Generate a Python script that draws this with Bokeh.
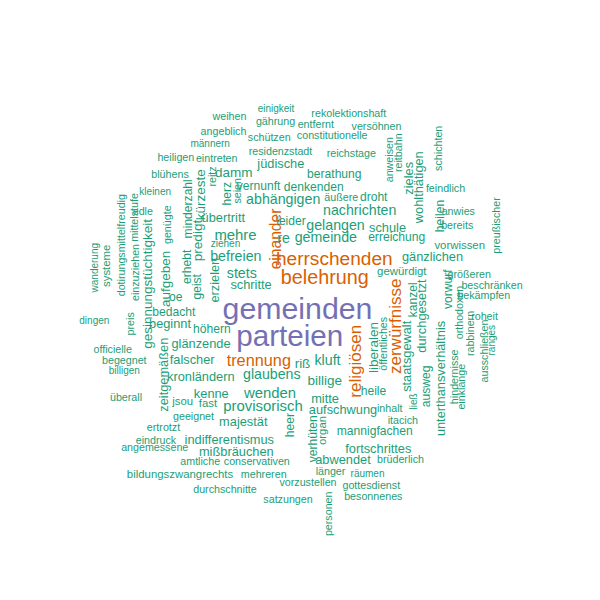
import math
from bokeh.plotting import figure
from bokeh.models import ColumnDataSource, Range1d
from bokeh.core.properties import value
from bokeh.embed import file_html
from bokeh.resources import INLINE

# Wörter nach geschätzter Häufigkeit
top_words = ["gemeinden", "parteien", "belehrung", "herrschenden", "religiösen",
             "zerwürfnisse", "trennung", "einander"]
top_freq = [30, 29, 15, 14, 11, 11, 10, 9]
freq8 = ["provisorisch", "wenden", "mehre"]
freq7 = ["nachrichten", "gelangen", "gemeinde", "re", "kluft", "abhängigen", "befreien",
         "stets", "glaubens"]
freq6 = ["predigt", "riß", "billige", "liberalen", "gesinnungstüchtigkeit", "aufgeben",
         "kürzeste", "damm"]
freq5 = ["schule", "gänzlichen", "wohlthätigen", "zieles", "unterthansverhältnis",
         "durchgesetzt", "staatsgewalt", "mitte", "aufschwung", "fortschrittes", "abwendet",
         "mißbräuchen", "indifferentismus", "majestät", "kenne", "zeitgemäßen", "glänzende",
         "falscher", "kronländern", "schritte", "beginnt", "erzielen", "jüdische", "übertritt"]
freq4 = ["berathung", "droht", "denkenden", "erreichung", "heilen", "leider", "vorwurf",
         "ausweg", "kanzel", "heile", "mannigfachen", "verhüten", "heer", "bedacht", "höhern",
         "oe", "erhebt", "geist", "minderzahl", "herz", "vernunft"]
freq3 = ["vorwissen", "gewürdigt", "organ", "bildungszwangrechts", "jsou", "fast", "systeme"]
freq2 = ["weihen", "gährung", "angeblich", "schützen", "residenzstadt", "rekolektionshaft",
         "entfernt", "versöhnen", "constitutionelle", "reichstage", "anweisen", "reitbahn",
         "schichten", "feindlich", "äußere", "anwies", "bereits", "preußischer", "größeren",
         "beschränken", "bekämpfen", "roheit", "ausschließen", "rabbinern", "orthodoxen",
         "hindernisse", "einklange", "öffentliches", "inhalt", "itacich", "brüderlich",
         "länger", "vorzustellen", "gottesdienst", "besonnenes", "satzungen", "personen",
         "durchschnitte", "mehreren", "amtliche", "conservativen", "angemessene", "eindruck",
         "ertrotzt", "geeignet", "überall", "officielle", "begegnet", "genügte", "reitz",
         "seien", "eintreten", "heiligen", "blühens", "edle", "dotirungsmittelfreudig",
         "mittelstufe", "einzuziehen", "preis"]
freq1 = ["einigkeit", "männern", "ranges", "ließ", "räumen", "billigen", "kleinen", "ziehen",
         "wanderung", "dingen"]

words = top_words + freq8 + freq7 + freq6 + freq5 + freq4 + freq3 + freq2 + freq1
freq = (top_freq + [8] * len(freq8) + [7] * len(freq7) + [6] * len(freq6)
        + [5] * len(freq5) + [4] * len(freq4) + [3] * len(freq3) + [2] * len(freq2)
        + [1] * len(freq1))

# Lage im Bild: (x, y, senkrecht) - waagerecht: Mitte/Grundlinie, senkrecht: Grundlinie/Mitte
layout = {
    "gemeinden": (297, 307.7, 0), "parteien": (289.3, 335, 0), "belehrung": (324.3, 276, 0),
    "herrschenden": (333.8, 258.3, 0), "religiösen": (354.7, 360.8, 1),
    "zerwürfnisse": (395, 325.8, 1), "trennung": (258.3, 359.3, 0), "einander": (275, 238.5, 1),
    "provisorisch": (262.5, 405, 0), "wenden": (269.5, 392.7, 0), "mehre": (235, 234, 0),
    "nachrichten": (359.2, 209.3, 0), "gelangen": (335, 224.3, 0), "gemeinde": (325.3, 236.7, 0),
    "re": (283, 237.7, 0), "kluft": (327, 359.3, 0), "abhängigen": (282.7, 198.3, 0),
    "befreien": (235.3, 255, 0), "stets": (241.3, 272.7, 0), "glaubens": (271.3, 373.3, 0),
    "predigt": (197, 240, 1),
    "riß": (302, 363.3, 0), "billige": (324.2, 380, 0), "liberalen": (373, 347, 1),
    "gesinnungstüchtigkeit": (146.5, 283.3, 1), "aufgeben": (164.5, 278.3, 1),
    "kürzeste": (200, 194.2, 1), "damm": (233.3, 171.7, 0),
    "schule": (387, 226.7, 0), "gänzlichen": (432, 255.7, 0), "wohlthätigen": (418, 186.7, 1),
    "zieles": (408.3, 177.8, 1), "unterthansverhältnis": (440, 378, 1),
    "durchgesetzt": (421.3, 315.5, 1), "staatsgewalt": (405.6, 355.8, 1),
    "mitte": (324.5, 398.3, 0), "aufschwung": (342.5, 409.3, 0), "fortschrittes": (377.8, 448.3, 0),
    "abwendet": (342.5, 459.3, 0), "mißbräuchen": (235.8, 450.7, 0),
    "indifferentismus": (228.8, 439.3, 0), "majestät": (242.8, 420.7, 0), "kenne": (210.8, 393.3, 0),
    "zeitgemäßen": (162.5, 374.2, 1), "glänzende": (200.5, 342.7, 0), "falscher": (191.7, 359.3, 0),
    "kronländern": (200.3, 376, 0), "schritte": (250.5, 284, 0), "beginnt": (169.5, 323.3, 0),
    "erzielen": (214, 279.7, 1), "jüdische": (280.3, 163.3, 0), "übertritt": (222.8, 217.3, 0),
    "berathung": (333.8, 173.3, 0), "droht": (373.2, 196.7, 0), "denkenden": (313.3, 186.7, 0),
    "erreichung": (396.2, 236.7, 0), "heilen": (439, 215.5, 1), "leider": (290.5, 220.7, 0),
    "vorwurf": (447.3, 288.8, 1), "ausweg": (425.8, 385.8, 1), "kanzel": (412.5, 299.2, 1),
    "heile": (373, 390, 0), "mannigfachen": (374.2, 430, 0), "verhüten": (312.5, 438.3, 1),
    "heer": (289.5, 424.7, 1), "bedacht": (173.3, 311.7, 0), "höhern": (211.3, 328.3, 0),
    "oe": (175.3, 296, 0), "erhebt": (186, 266.3, 1), "geist": (196, 286.3, 1),
    "minderzahl": (187, 208.3, 1), "herz": (226, 193.3, 1), "vernunft": (258, 185, 0),
    "vorwissen": (459.2, 244.3, 0), "gewürdigt": (401.3, 270.7, 0), "organ": (321.5, 430, 1),
    "bildungszwangrechts": (179.5, 473.3, 0), "jsou": (182.2, 400, 0), "fast": (207.5, 402.7, 0),
    "systeme": (105, 265.3, 1),
    "weihen": (229, 115, 0), "gährung": (275, 120, 0), "angeblich": (223, 130.7, 0),
    "schützen": (268.7, 136.7, 0), "residenzstadt": (280, 150, 0),
    "rekolektionshaft": (348.3, 112.7, 0), "entfernt": (315.3, 123.3, 0),
    "versöhnen": (376, 125.3, 0), "constitutionelle": (331.7, 134.3, 0),
    "reichstage": (350.8, 152.7, 0), "anweisen": (388.3, 159.2, 1), "reitbahn": (397.3, 152.2, 1),
    "schichten": (437.3, 147.8, 1), "feindlich": (445, 187.3, 0), "äußere": (340.8, 196.7, 0),
    "anwies": (457.8, 210.7, 0), "bereits": (456.7, 224, 0), "preußischer": (495, 225, 1),
    "größeren": (468.7, 273.3, 0), "beschränken": (491.5, 284.3, 0), "bekämpfen": (483.3, 294.3, 0),
    "roheit": (484, 315, 0), "ausschließen": (483.3, 350.5, 1), "rabbinern": (469.3, 333, 1),
    "orthodoxen": (458.3, 312, 1), "hindernisse": (453.3, 376.3, 1), "einklange": (460.5, 386.2, 1),
    "öffentliches": (382.5, 343.3, 1), "inhalt": (389.2, 407.7, 0), "itacich": (402.3, 419.3, 0),
    "brüderlich": (400, 458.3, 0), "länger": (330, 470, 0), "vorzustellen": (307.5, 481.7, 0),
    "gottesdienst": (370.8, 484.3, 0), "besonnenes": (372.8, 495, 0), "satzungen": (287.5, 498.3, 0),
    "personen": (327.8, 513.3, 1), "durchschnitte": (224.5, 488.3, 0), "mehreren": (263.2, 473.3, 0),
    "amtliche": (199.7, 460, 0), "conservativen": (256.3, 460, 0), "angemessene": (154.2, 446.7, 0),
    "eindruck": (155.5, 439.3, 0), "ertrotzt": (163, 426.7, 0), "geeignet": (193, 415, 0),
    "überall": (125.5, 396.7, 0), "officielle": (112.2, 348.3, 0), "begegnet": (123.8, 359.3, 0),
    "genügte": (166, 224.2, 1), "reitz": (211.5, 176, 1), "seien": (236.5, 190.3, 1),
    "eintreten": (216.2, 157.3, 0), "heiligen": (175.3, 156.7, 0), "blühens": (169.5, 173.3, 0),
    "edle": (142.3, 210, 0), "dotirungsmittelfreudig": (120.5, 244.7, 1),
    "mittelstufe": (133.3, 217, 1), "einzuziehen": (134, 272, 1), "preis": (129.5, 323.3, 1),
    "einigkeit": (275.5, 108, 0), "männern": (209.7, 143.3, 0), "ranges": (491, 339.7, 1),
    "ließ": (413.3, 401, 1), "räumen": (367, 473.3, 0), "billigen": (123.8, 370, 0),
    "kleinen": (154.7, 190.7, 0), "ziehen": (225, 242.7, 0), "wanderung": (94, 267.2, 1),
    "dingen": (93.8, 320, 0),
}

teal, orange, purple = "#1B9E77", "#D95F02", "#7570B3"


def colour(f):
    if f >= 20:
        return purple
    if f >= 9:
        return orange
    return teal


src = ColumnDataSource(data=dict(
    text=words,
    x=[layout[w][0] for w in words],
    y=[layout[w][1] for w in words],
    angle=[math.pi / 2 if layout[w][2] else 0.0 for w in words],
    size=["%.1fpx" % (9.3 + 0.7 * f) for f in freq],
    color=[colour(f) for f in freq],
))

# Die Seite hat keinen Rand: Datenkoordinaten = Bildpunkte
p = figure(width=600, height=600, output_backend="svg", toolbar_location=None,
           x_range=Range1d(0, 600), y_range=Range1d(600, 0),
           x_axis_location=None, y_axis_location=None, min_border=0)
p.grid.visible = False
p.outline_line_color = None
p.background_fill_color = "white"

p.text(x="x", y="y", text="text", angle="angle", source=src,
       text_font=value("Liberation Sans"), text_font_size="size",
       text_color="color", text_align="center", text_baseline="alphabetic")

open("out.html", "w").write(file_html(p, INLINE))
